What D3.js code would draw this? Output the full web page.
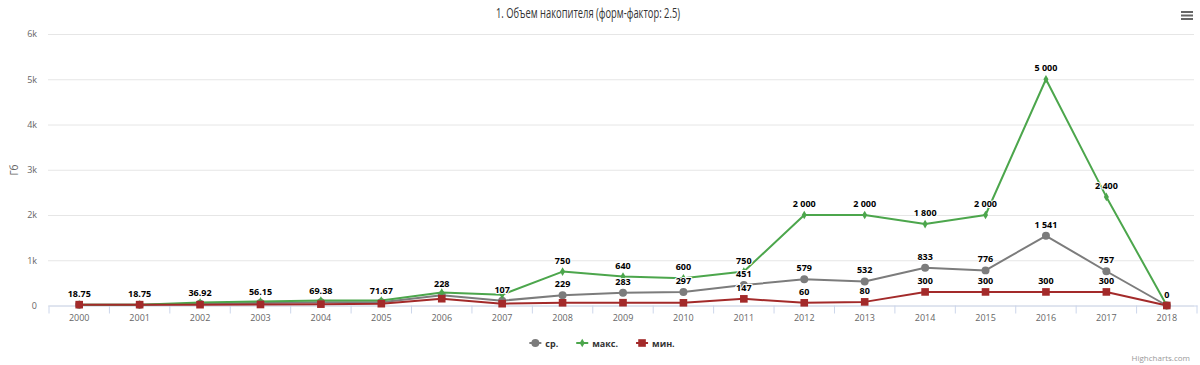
<!DOCTYPE html>
<html>
<head>
<meta charset="utf-8">
<script src="https://cdnjs.cloudflare.com/ajax/libs/d3/7.8.5/d3.min.js"></script>
<style>
  body { margin: 0; background: #fff; }
  svg { display: block; font-family: "Open Sans", sans-serif; }
</style>
</head>
<body>
<svg id="chart" width="1200" height="365"></svg>
<script>
// data
var years = ["2000","2001","2002","2003","2004","2005","2006","2007","2008","2009",
             "2010","2011","2012","2013","2014","2015","2016","2017","2018"];
var avgVals = [18.75, 18.75, 36.92, 56.15, 69.38, 71.67, 228, 107, 229, 283,
               297, 451, 579, 532, 833, 776, 1541, 757, 0];
var maxVals = [18.75, 18.75, 64, 90, 108, 110, 285, 240, 750, 640,
               600, 750, 2000, 2000, 1800, 2000, 5000, 2400, 0];
var minVals = [18.75, 18.75, 18, 22, 30, 40, 150, 40, 60, 62,
               60, 147, 60, 80, 300, 300, 300, 300, 0];
var yTicks = [0, 1000, 2000, 3000, 4000, 5000, 6000];
var yTickLabels = ["0", "1k", "2k", "3k", "4k", "5k", "6k"];

var series = [
  {name: "ср.", values: avgVals, color: "#7c7c7c", symbol: "circle"},
  {name: "макс.", values: maxVals, color: "#4ca64c", symbol: "diamond"},
  {name: "мин.", values: minVals, color: "#a32a2a", symbol: "square"}
];

var svg = d3.select("#chart");
var plotLeft = 49, plotRight = 1197, plotTop = 34, plotBottom = 305.5;

var x = d3.scaleBand().domain(years).range([plotLeft, plotRight]).padding(0);
var y = d3.scaleLinear().domain([0, 6000]).range([plotBottom, plotTop]);
var cx = function(d) { return x(d) + x.bandwidth() / 2; };

// title (narrow face squeezed to the width seen in the picture)
svg.append("text")
  .attr("x", 588).attr("y", 18)
  .attr("text-anchor", "middle")
  .attr("textLength", 184)
  .attr("lengthAdjust", "spacingAndGlyphs")
  .style("font-family", "'Open Sans', sans-serif")
  .style("font-size", "14px")
  .style("fill", "#333")
  .text("1. Объем накопителя (форм-фактор: 2.5)");

// menu button
[12, 15.5, 19].forEach(function(yy) {
  svg.append("line").attr("x1", 1181).attr("x2", 1193).attr("y1", yy).attr("y2", yy)
    .attr("stroke", "#666").attr("stroke-width", 2);
});

// grid + y labels
var yAxis = d3.axisLeft(y).tickValues(yTicks)
  .tickFormat(function(d, i) { return yTickLabels[i]; })
  .tickSize(-(plotRight - plotLeft - 2)).tickPadding(11);
var gy = svg.append("g").attr("transform", "translate(" + (plotLeft - 1) + ",0)").call(yAxis);
gy.select(".domain").remove();
gy.selectAll(".tick line").attr("stroke", "#e6e6e6");
gy.selectAll(".tick text").style("font-size", "9px").style("fill", "#666")
  .style("font-family", "'Open Sans', sans-serif");

svg.append("text")
  .attr("transform", "translate(18,170) rotate(-90)")
  .attr("text-anchor", "middle")
  .style("font-size", "10px").style("fill", "#666")
  .text("Гб");

// x axis
var xAxis = d3.axisBottom(x).tickSize(0).tickPadding(9);
var gx = svg.append("g").attr("transform", "translate(0," + plotBottom + ")").call(xAxis);
gx.select(".domain").attr("stroke", "#ccd6eb");
gx.selectAll(".tick text").style("font-size", "9px").style("fill", "#666")
  .style("font-family", "'Open Sans', sans-serif");
// tick marks at category boundaries
svg.append("g").selectAll("line")
  .data(years.concat(["end"]))
  .enter().append("line")
  .attr("x1", function(d, i) { return plotLeft + i * x.bandwidth(); })
  .attr("x2", function(d, i) { return plotLeft + i * x.bandwidth(); })
  .attr("y1", plotBottom).attr("y2", plotBottom + 8)
  .attr("stroke", "#ccd6eb");

// lines and markers
var line = d3.line()
  .x(function(d, i) { return cx(years[i]); })
  .y(function(d) { return y(d); });

var symbolSize = {circle: 50, diamond: 22, square: 58};
var symbolType = {circle: d3.symbolCircle, diamond: d3.symbolDiamond, square: d3.symbolSquare};

series.forEach(function(s) {
  var g = svg.append("g");
  g.append("path").datum(s.values)
    .attr("d", line)
    .attr("fill", "none")
    .attr("stroke", s.color)
    .attr("stroke-width", 2)
    .attr("stroke-linejoin", "round");
  g.selectAll("path.pt").data(s.values).enter().append("path")
    .attr("class", "pt")
    .attr("d", d3.symbol().type(symbolType[s.symbol]).size(symbolSize[s.symbol]))
    .attr("transform", function(d, i) { return "translate(" + cx(years[i]) + "," + y(d) + ")"; })
    .attr("fill", s.color);
});

// data labels with overlap hiding (series order wins)
var fmt = function(v) {
  if (Math.round(v) !== v) return d3.format(".2f")(v);
  return d3.format(",")(v).replace(/,/g, " ");
};
var labels = [];
series.forEach(function(s) {
  s.values.forEach(function(v, i) {
    labels.push({text: fmt(v), x: cx(years[i]), y: y(v) - 8});
  });
});
var lg = svg.append("g");
var shown = [];
labels.forEach(function(l) {
  var t = lg.append("text")
    .attr("x", l.x).attr("y", l.y)
    .attr("text-anchor", "middle")
    .style("font-family", "'Open Sans', sans-serif")
    .style("font-size", "9px").style("font-weight", "bold")
    .style("fill", "#000")
    .style("stroke", "#fff").style("stroke-width", "2px")
    .style("paint-order", "stroke")
    .text(l.text);
  var w = t.node().getComputedTextLength();
  var box = {x0: l.x - w / 2, x1: l.x + w / 2, y0: l.y - 9, y1: l.y + 3};
  var hit = shown.some(function(b) {
    return box.x0 < b.x1 && box.x1 > b.x0 && box.y0 < b.y1 && box.y1 > b.y0;
  });
  if (hit) t.remove(); else shown.push(box);
});

// legend
var leg = svg.append("g");
var lx = 0;
series.forEach(function(s) {
  var item = leg.append("g").attr("transform", "translate(" + lx + ",0)");
  item.append("line").attr("x1", 0).attr("x2", 12).attr("y1", 0).attr("y2", 0)
    .attr("stroke", s.color).attr("stroke-width", 2);
  item.append("path")
    .attr("d", d3.symbol().type(symbolType[s.symbol]).size(symbolSize[s.symbol]))
    .attr("transform", "translate(6,0)")
    .attr("fill", s.color);
  var t = item.append("text").attr("x", 16).attr("y", 3.5)
    .style("font-size", "9px").style("font-weight", "bold").style("fill", "#333")
    .text(s.name);
  lx += 16 + t.node().getComputedTextLength() + 18;
});
var legW = lx - 18;
leg.attr("transform", "translate(" + (602 - legW / 2) + ",343)");

// credits
svg.append("text")
  .attr("x", 1190).attr("y", 361)
  .attr("text-anchor", "end")
  .style("font-size", "8px").style("fill", "#999")
  .text("Highcharts.com");
</script>
</body>
</html>
